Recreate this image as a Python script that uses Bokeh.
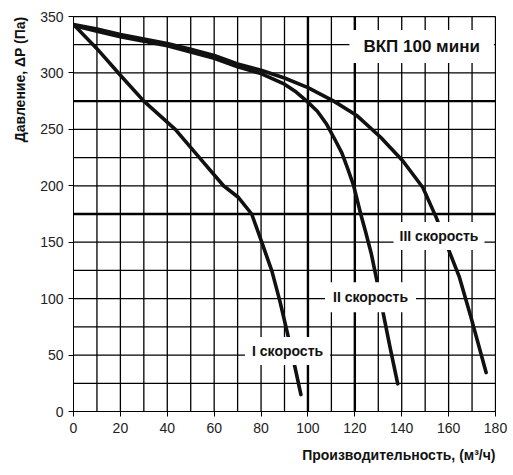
from bokeh.plotting import figure
from bokeh.models import Range1d, FixedTicker, Label, Title
from bokeh.embed import file_html
from bokeh.resources import INLINE

# ---- data ----
x_ticks = list(range(0, 181, 20))
y_ticks = list(range(0, 351, 50))
x_grid = list(range(10, 181, 10))
y_grid = list(range(25, 351, 25))
thick_x = [100, 120]
thick_y = [175, 275]

speed1_q = [0, 10, 20, 30, 43.4, 53.7, 64, 70.4, 76, 80.3, 84.6, 88, 91.3, 94.5, 97]
speed1_p = [343, 321.5, 298, 275, 250, 225, 200, 189.6, 175, 150, 124.6, 98, 69, 39, 15]

speed2_q = [0, 10, 20, 30, 40, 50, 60, 70, 80, 90, 95, 99.5, 104, 108, 111.5, 114.5, 117, 119.5, 122.5, 124.5, 127, 129.4, 132.2, 135, 138.3]
speed2_p = [342, 337, 332, 328, 324, 318.5, 313, 305.5, 299.4, 290, 283, 275, 266, 254.5, 241, 229, 215, 200, 175, 160, 140, 116, 86, 57, 24.5]

speed3_q = [0, 10, 20, 30, 40, 50, 60, 70, 80, 90, 100, 111, 121, 131, 140.5, 149, 154.7, 159.7, 164.6, 169.6, 176]
speed3_p = [343, 339, 334, 330, 326, 321, 315.5, 308, 302.4, 295.5, 287, 275, 262, 243, 222, 198.5, 172, 145, 119, 83, 34.5]

FONT = "Liberation Sans"
X0, X1, Y0, Y1 = 0, 180, 0, 350

p = figure(frame_width=422, frame_height=395, output_backend="svg", toolbar_location=None,
           x_range=Range1d(X0, X1), y_range=Range1d(Y0, Y1),
           min_border_left=73, min_border_right=15, min_border_top=16, min_border_bottom=61)
p.outline_line_color = "black"
p.outline_line_width = 1
p.background_fill_color = "white"
p.xgrid.visible = False
p.ygrid.visible = False

for ax, tk in ((p.xaxis, x_ticks), (p.yaxis, y_ticks)):
    ax.ticker = FixedTicker(ticks=tk)
    ax.minor_tick_line_color = None
    ax.major_tick_in = 0
    ax.major_tick_out = 5
    ax.major_tick_line_color = "black"
    ax.axis_line_color = "black"
    ax.major_label_text_font = FONT
    ax.major_label_text_font_size = "14px"
    ax.major_label_text_color = "#222222"
p.xaxis.major_label_standoff = 6
p.yaxis.major_label_standoff = 5

# axis titles
xt = Title(text="Производительность, (м³/ч)", align="right", text_font=FONT,
           text_font_size="14px", text_font_style="bold", text_color="#111111",
           standoff=18)
p.add_layout(xt, "below")
yt = Title(text="Давление, ΔP (Па)", align="right", text_font=FONT,
           text_font_size="14px", text_font_style="bold", text_color="#111111",
           standoff=19)
p.add_layout(yt, "left")

# grid as glyphs
p.segment(x0=x_grid, y0=[Y0] * len(x_grid), x1=x_grid, y1=[Y1] * len(x_grid),
          line_color="black", line_width=1.3)
p.segment(x0=[X0] * len(y_grid), y0=y_grid, x1=[X1] * len(y_grid), y1=y_grid,
          line_color="black", line_width=1.3)
p.segment(x0=thick_x, y0=[Y0] * len(thick_x), x1=thick_x, y1=[Y1] * len(thick_x),
          line_color="black", line_width=2.4)
p.segment(x0=[X0] * len(thick_y), y0=thick_y, x1=[X1] * len(thick_y), y1=thick_y,
          line_color="black", line_width=2.4)

for q, pr in ((speed1_q, speed1_p), (speed2_q, speed2_p), (speed3_q, speed3_p)):
    p.line(q, pr, line_color="#111111", line_width=3.6, line_join="round", line_cap="round")

def lab(x, y, text, size, pad):
    p.add_layout(Label(x=x, y=y, text=text, text_font=FONT, text_font_size=size,
                       text_font_style="bold", text_color="#111111", text_align="center",
                       text_baseline="middle", background_fill_color="white",
                       padding=pad))

lab(148.5, 323.5, "ВКП 100 мини", "17px", dict(x=14, y=7))
lab(155.9, 155.6, "III скорость", "14px", dict(x=6, y=6))
lab(126.7, 101.2, "II скорость", "14px", dict(x=8, y=7))
lab(91.3, 53.7, "I скорость", "14px", dict(x=7, y=6))

open("out.html", "w").write(file_html(p, INLINE))
